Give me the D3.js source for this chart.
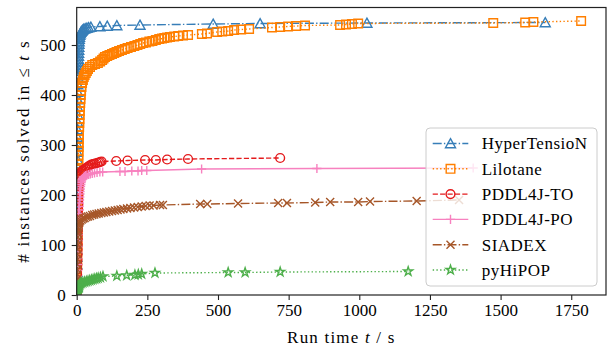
<!DOCTYPE html>
<html>
<head>
<meta charset="utf-8">
<script src="https://cdn.jsdelivr.net/npm/d3@7"></script>
<style>
  body { margin: 0; background: #fff; }
  svg text { font-family: "Liberation Serif", "Times New Roman", serif; fill: #000; }
</style>
</head>
<body>
<div id="chart"></div>
<script>

// cumulative instances solved: [run time in s, # solved]
var hyperTensioN = [[0.3,1],[0.4,16],[0.5,31],[0.6,46],[0.7,61],[0.8,76],[0.9,91],[1,106],[1.1,121],[1.2,136],[1.3,151],[1.4,166],[1.5,181],[1.6,196],[1.7,211],[1.8,226],[1.9,241],[2,256],[2.1,271],[2.2,286],[2.4,301],[2.6,316],[2.8,331],[3,346],[3.2,361],[3.4,376],[3.6,391],[3.8,406],[4,421],[4.2,436],
  [4.5,442],[4.8,448],[5,454],[5.3,460],[5.6,466],[6,472],[6.4,478],[6.8,484],[7.2,490],[7.6,496],[8,502],[8.5,507],[9,512],[10,516],[11,520],[13,523],[15,526],[18,528],[21,530],[25,532],[30,533],[36,534],[42,535],
  [50,536],[82,537],[108,538],[142,539],[224,540],[483,542],[649,543],[1027,544],[1658,545]];

var lilotane = [[0.3,1],[0.5,11],[0.7,21],[0.9,31],[1.1,41],[1.3,51],[1.5,61],[1.7,71],[1.9,81],[2.1,91],[2.3,101],[2.5,111],[2.7,121],[2.9,131],[3.1,141],[3.3,151],[3.5,161],[3.7,171],[3.9,181],[4.1,191],[4.3,201],[4.5,211],[4.7,221],[4.9,231],[5.1,241],[5.3,251],[5.5,261],[5.8,271],[6.1,280],[6.4,288],[6.7,296],[7,304],[7.4,312],[7.8,320],[8.2,328],[8.7,336],[9.2,344],[9.7,352],[10.3,360],[11,368],[11.7,376],[12.5,384],[13.4,392],[14.4,400],[15.5,408],[17,416],[19,424],[22,430],[25,436],[28,440],[32,444],[36,448],[40,452],[47,456],[55,460],[65,462],[75,464],[83,467],[90,470],[95,473],[100,476],[108,478],[116,480],[125,482],[133,484],[141,486],[150,488],[160,490],[170,492],[180,494],[192,496],[204,498],[215,500],[225,502],[235,504],[245,505],[257,507],[268,508],[280,510],[292,512],[302,513],[310,514],[320,515],
  [330,516],[345,517],[359,518],[376,519],[394,520],[443,522],[461,523],[497,526],[515,527],[536,528],[557,530],[582,531],[610,532],[691,535],[720,536],[748,537],[776,538],[808,539],[932,540],[953,541],[974,542],[996,543],[1474,544],[1587,545],[1616,546],[1785,548]];

var pddl4jTO = [[0.3,1],[0.6,11],[0.9,21],[1.2,31],[1.5,41],[1.8,51],[2.1,61],[2.4,71],[2.7,81],[3,91],[3.3,101],[3.6,111],[3.9,121],[4.2,131],[4.5,141],[4.8,151],[5.1,161],[5.4,171],[5.7,181],[6,191],[6.4,201],[6.8,211],[7.2,219],[7.8,226],[8.5,232],[9.5,237],[11,241],[14,244],[17,247],[21,249],[26,251],[31,253],[36,255],[41,257],[46,259],[52,261],[58,262],[65,263],[72,264],[78,265],[83,266],[88,267],
  [140,268],[180,269],[242,270],[280,270],[320,271],[394,272],[720,274]];

var pddl4jPO = [[0.5,1],[1,13],[1.5,25],[2,37],[2.5,49],[3,61],[3.5,73],[4,85],[4.5,97],[5,109],[5.5,121],[6,133],[6.5,145],[7,155],[7.5,163],[8,170],[8.7,177],[9.4,184],[10,190],[10.7,196],[11.4,202],[12,207],[12.8,212],[13.6,217],[14.5,221],[15.5,225],[17,228],[19,231],[21,233],[24,235],[27,237],[31,239],[36,240],[42,241],[48,242],[55,243],[63,244],[72,245],[82,246],[92,246],
  [153,247],[171,247],[195,248],[217,248],[230,249],[248,249],[442,252],[850,253],[1403,254]];

var siadex = [[0.5,1],[0.8,11],[1.1,21],[1.4,31],[1.7,41],[2,51],[2.3,61],[2.6,71],[2.9,81],[3.2,91],[3.5,100],[3.9,108],[4.3,116],[4.8,123],[5.4,129],[6,135],[7,140],[8.5,144],[10,147],[13,149],[18,151],[23,153],[28,154],[34,156],[40,157],[47,158],[55,160],[62,161],[70,162],[78,163],[87,164],[96,165],[105,166],[115,167],[125,168],[135,169],[145,170],[155,171],[165,172],[178,173],[190,174],[203,175],[216,176],[230,177],[244,178],[258,179],[272,179],
  [295,180],[305,180],[437,182],[462,182],[571,183],[713,184],[744,184],[844,185],[897,186],[996,186],[1038,187],[1203,188],[1353,190]];

var pyHiPOP = [[0.5,1],[1,3],[1.5,5],[2,7],[2.5,9],[3,11],[4,13],[5,15],[6.5,17],[8,19],[10,21],[13,23],[17,24],[22,25],[28,26],[34,27],[40,28],[46,29],[52,30],[58,31],[64,32],[70,33],[76,34],[84,35],
  [93,37],[142,38],[177,39],[206,40],[218,41],[230,42],[277,44],[536,45],[596,45],[720,46],[1173,47]];

var planners = ['HyperTensioN','Lilotane','PDDL4J-TO','PDDL4J-PO','SIADEX','pyHiPOP'];
var seriesData = [hyperTensioN, lilotane, pddl4jTO, pddl4jPO, siadex, pyHiPOP];
var xTicks = [0,250,500,750,1000,1250,1500,1750];
var yTicks = [0,100,200,300,400,500];

var styles = [
  {color:'#377eb8', dash:'9,2.2,1.4,2.2', marker:'triangle'},
  {color:'#ff7f00', dash:'1.4,2.3',       marker:'square'},
  {color:'#e41a1c', dash:'5.2,2.2',       marker:'circle'},
  {color:'#f781bf', dash:null,            marker:'plus'},
  {color:'#a65628', dash:'9,2.2,1.4,2.2', marker:'x'},
  {color:'#4daf4a', dash:'1.4,2.3',       marker:'star'}
];

var FONT = '"Liberation Serif", "Times New Roman", serif';

function starPath(r){
  var p = [];
  for (var i = 0; i < 10; i++) {
    var a = -Math.PI/2 + i*Math.PI/5, rr = (i % 2) ? r*0.382 : r;
    p.push([ (rr*Math.cos(a)).toFixed(2), (rr*Math.sin(a)).toFixed(2) ]);
  }
  return 'M' + p.join('L') + 'Z';
}

var markerPaths = {
  triangle: 'M0,-4.8L5,4.2L-5,4.2Z',
  square:   'M-4.3,-4.3H4.3V4.3H-4.3Z',
  circle:   d3.symbol().type(d3.symbolCircle).size(Math.PI*4.4*4.4)(),
  plus:     'M-4.6,0H4.6M0,-4.6V4.6',
  x:        'M-4,-4L4,4M-4,4L4,-4',
  star:     starPath(4.7)
};

var full_width = 611, full_height = 349;
var margin = {top:7.5, right:5, bottom:54, left:76.7},
    width = full_width - margin.left - margin.right,
    height = full_height - margin.top - margin.bottom;

var x = d3.scaleLinear().domain([0,1873]).range([0, width]);
var y = d3.scaleLinear().domain([0,575]).range([height, 0]);

var svg = d3.select('#chart').append('svg')
    .attr('width', full_width)
    .attr('height', full_height)
    .attr('font-family', FONT)
  .append('g')
    .attr('transform', 'translate(' + margin.left + ',' + margin.top + ')');

svg.append('defs').append('clipPath').attr('id','plotclip')
  .append('rect').attr('width', width).attr('height', height);

var plot = svg.append('g').attr('clip-path','url(#plotclip)');

var line = d3.line()
  .x(function(d){ return x(d[0]); })
  .y(function(d){ return y(d[1]); });

seriesData.forEach(function(data, i){
  var st = styles[i];
  var g = plot.append('g').attr('class','series');
  g.append('path')
    .datum(data)
    .attr('d', line)
    .attr('fill','none')
    .attr('stroke', st.color)
    .attr('stroke-width', 1.4)
    .attr('stroke-dasharray', st.dash);
  g.selectAll('.mk')
    .data(data)
    .enter().append('path')
      .attr('class','mk')
      .attr('transform', function(d){ return 'translate(' + x(d[0]) + ',' + y(d[1]) + ')'; })
      .attr('d', markerPaths[st.marker])
      .attr('fill','none')
      .attr('stroke', st.color)
      .attr('stroke-width', 1.4);
});

// axes
var xAxis = svg.append('g')
  .attr('transform','translate(0,' + height + ')')
  .call(d3.axisBottom(x).tickValues(xTicks).tickSize(5).tickPadding(4).tickFormat(d3.format('d')));
var yAxis = svg.append('g')
  .call(d3.axisLeft(y).tickValues(yTicks).tickSize(5).tickPadding(6).tickFormat(d3.format('d')));

[xAxis, yAxis].forEach(function(a){
  a.attr('font-family', FONT).attr('font-size', 17);
  a.select('.domain').remove();
  a.selectAll('line').attr('stroke','#222').attr('stroke-width',1.1);
  a.selectAll('text').attr('fill','#000');
});

svg.append('rect')
  .attr('width', width).attr('height', height)
  .attr('fill','none').attr('stroke','#222').attr('stroke-width',1.2);

// labels
var xl = svg.append('text')
  .attr('x', width/2).attr('y', height + 48)
  .attr('text-anchor','middle').attr('font-size','17px')
  .style('letter-spacing','1.2px');
xl.append('tspan').text('Run time ');
xl.append('tspan').attr('font-style','italic').text('t');
xl.append('tspan').text(' / s');

var yl = svg.append('text')
  .attr('transform','translate(' + (-48) + ',' + (height/2) + ') rotate(-90)')
  .attr('text-anchor','middle').attr('font-size','17px')
  .style('letter-spacing','1.8px');
yl.append('tspan').text('# instances solved in \u2264 ');
yl.append('tspan').attr('font-style','italic').text('t');
yl.append('tspan').text(' s');

// legend
var lg = svg.append('g').attr('transform','translate(' + (426 - margin.left) + ',' + (128 - margin.top) + ')');
lg.append('rect')
  .attr('width', 171).attr('height', 158).attr('rx', 4)
  .attr('fill','#fff').attr('fill-opacity',0.8)
  .attr('stroke','#cccccc').attr('stroke-width',1);

planners.forEach(function(name, i){
  var st = styles[i], cy = 15.5 + i*25.3;
  var row = lg.append('g');
  row.append('line')
    .attr('x1', 6.7).attr('x2', 42.3).attr('y1', cy).attr('y2', cy)
    .attr('stroke', st.color).attr('stroke-width', 1.4)
    .attr('stroke-dasharray', st.dash);
  row.append('path')
    .attr('transform','translate(24.5,' + cy + ')')
    .attr('d', markerPaths[st.marker])
    .attr('fill','none').attr('stroke', st.color).attr('stroke-width', 1.4);
  row.append('text')
    .attr('x', 55.7).attr('y', cy + 5.8)
    .attr('font-size','17px')
    .style('letter-spacing','0.5px')
    .text(name);
});

</script>
</body>
</html>
